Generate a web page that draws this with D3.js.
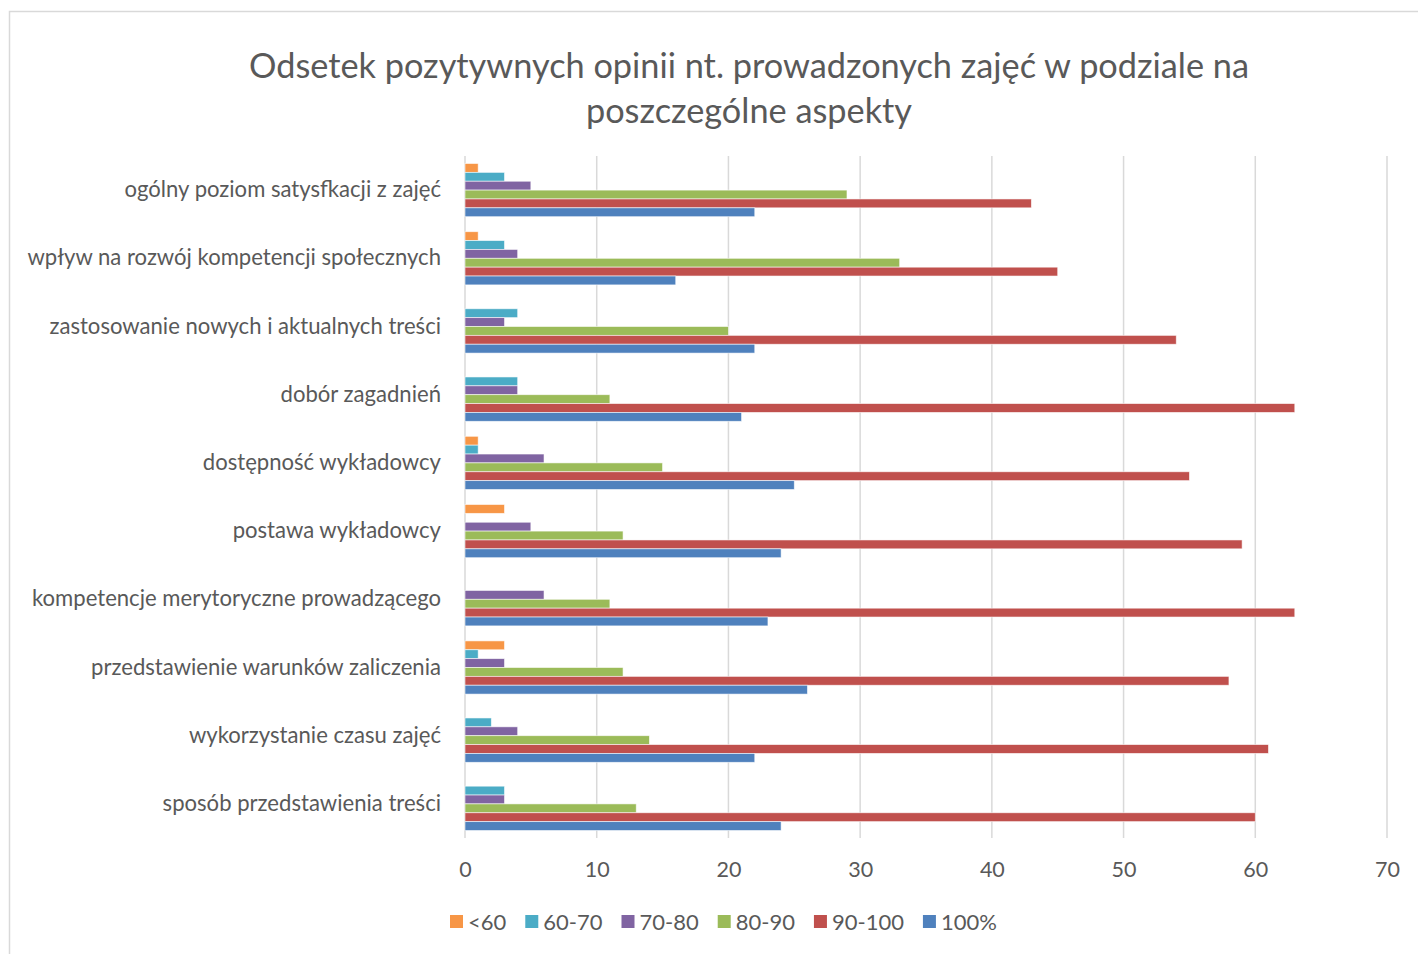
<!DOCTYPE html>
<html>
<head>
<meta charset="utf-8">
<script src="https://cdn.jsdelivr.net/npm/d3@7"></script>
<style>
  body { margin: 0; background: #fff; }
  svg text { font-family: Lato, "Open Sans", sans-serif; fill: #595959; }
</style>
</head>
<body>
<svg width="1418" height="954"></svg>
<script>
// categories, top to bottom
var categories = [
  'ogólny poziom satysfkacji z zajęć',
  'wpływ na rozwój kompetencji społecznych',
  'zastosowanie nowych i aktualnych treści',
  'dobór zagadnień',
  'dostępność wykładowcy',
  'postawa wykładowcy',
  'kompetencje merytoryczne prowadzącego',
  'przedstawienie warunków zaliczenia',
  'wykorzystanie czasu zajęć',
  'sposób przedstawienia treści'
];
var seriesNames = ['<60', '60-70', '70-80', '80-90', '90-100', '100%'];
var seriesColors = ['#F79646', '#4BACC6', '#8064A2', '#9BBB59', '#C0504D', '#4F81BD'];
var below60 = [1, 1, 0, 0, 1, 3, 0, 3, 0, 0];
var s60to70 = [3, 3, 4, 4, 1, 0, 0, 1, 2, 3];
var s70to80 = [5, 4, 3, 4, 6, 5, 6, 3, 4, 3];
var s80to90 = [29, 33, 20, 11, 15, 12, 11, 12, 14, 13];
var s90to100 = [43, 45, 54, 63, 55, 59, 63, 58, 61, 60];
var full100 = [22, 16, 22, 21, 25, 24, 23, 26, 22, 24];
var xTicks = [0, 10, 20, 30, 40, 50, 60, 70];
var titleLines = ['Odsetek pozytywnych opinii nt. prowadzonych zajęć w podziale na', 'poszczególne aspekty'];

var seriesValues = [below60, s60to70, s70to80, s80to90, s90to100, full100];

var svg = d3.select('svg');
var plotL = 465, plotR = 1387, plotT = 156, plotB = 838;

// chart frame (cut off at right and bottom like the source)
svg.append('rect')
    .attr('x', 9.5).attr('y', 11.5)
    .attr('width', 1440).attr('height', 980)
    .attr('fill', 'none').attr('stroke', '#d9d9d9').attr('stroke-width', 1.5);

svg.selectAll('text.title')
    .data(titleLines)
    .enter().append('text')
    .attr('class', 'title')
    .attr('x', 749)
    .attr('y', function (d, i) { return 66 + i * 45; })
    .attr('dy', '0.35em')
    .attr('text-anchor', 'middle')
    .style('font-size', '34.3px')
    .text(function (d) { return d; });

var x = d3.scaleLinear().domain([0, 70]).range([plotL, plotR]);
var y = d3.scaleBand().domain(categories).range([plotT, plotB]).paddingInner(0.22).paddingOuter(0.11);
var ySub = d3.scaleBand().domain(seriesNames).range([0, y.bandwidth()]);

// gridlines
svg.append('g')
    .selectAll('line')
    .data(xTicks)
    .enter().append('line')
    .attr('x1', function (d) { return x(d); })
    .attr('x2', function (d) { return x(d); })
    .attr('y1', plotT).attr('y2', plotB)
    .attr('stroke', '#d9d9d9').attr('stroke-width', 1.5);

var xAxis = svg.append('g')
    .attr('transform', 'translate(0,' + (plotB + 20) + ')')
    .call(d3.axisBottom(x).tickValues(xTicks).tickSize(0).tickPadding(0));
xAxis.select('.domain').remove();
xAxis.selectAll('text')
    .attr('dy', '0.35em').attr('y', 11)
    .style('font-size', '21.5px').style('font-family', 'Lato, sans-serif').attr('fill', '#595959');

var yAxis = svg.append('g')
    .attr('transform', 'translate(' + (plotL - 24) + ',0)')
    .call(d3.axisLeft(y).tickSize(0).tickPadding(0));
yAxis.select('.domain').remove();
yAxis.selectAll('text')
    .style('font-size', '22.1px').style('font-family', 'Lato, sans-serif').attr('fill', '#595959');

// bars
var groups = svg.append('g')
    .selectAll('g')
    .data(seriesNames)
    .enter().append('g')
    .attr('fill', function (d, i) { return seriesColors[i]; });

groups.selectAll('rect')
    .data(function (d, i) {
      return categories.map(function (c, j) { return { cat: c, s: d, v: seriesValues[i][j] }; });
    })
    .enter().append('rect')
    .filter(function (d) { return d.v > 0; })
    .attr('x', x(0))
    .attr('y', function (d) { return y(d.cat) + ySub(d.s); })
    .attr('width', function (d) { return x(d.v) - x(0); })
    .attr('height', ySub.bandwidth())
    .attr('stroke', '#fff').attr('stroke-width', 0.8).attr('stroke-opacity', 0.7);

// legend
var legend = svg.append('g').attr('transform', 'translate(0,922)');
var items = legend.selectAll('g')
    .data(seriesNames)
    .enter().append('g');
items.append('rect')
    .attr('y', -7).attr('width', 13).attr('height', 13)
    .attr('fill', function (d, i) { return seriesColors[i]; });
items.append('text')
    .attr('x', 18).attr('dy', '0.35em')
    .style('font-size', '22px')
    .text(function (d) { return d; });
var pos = 450;
items.each(function () {
  d3.select(this).attr('transform', 'translate(' + pos + ',0)');
  pos += 18 + this.querySelector('text').getComputedTextLength() + 19;
});
</script>
</body>
</html>
